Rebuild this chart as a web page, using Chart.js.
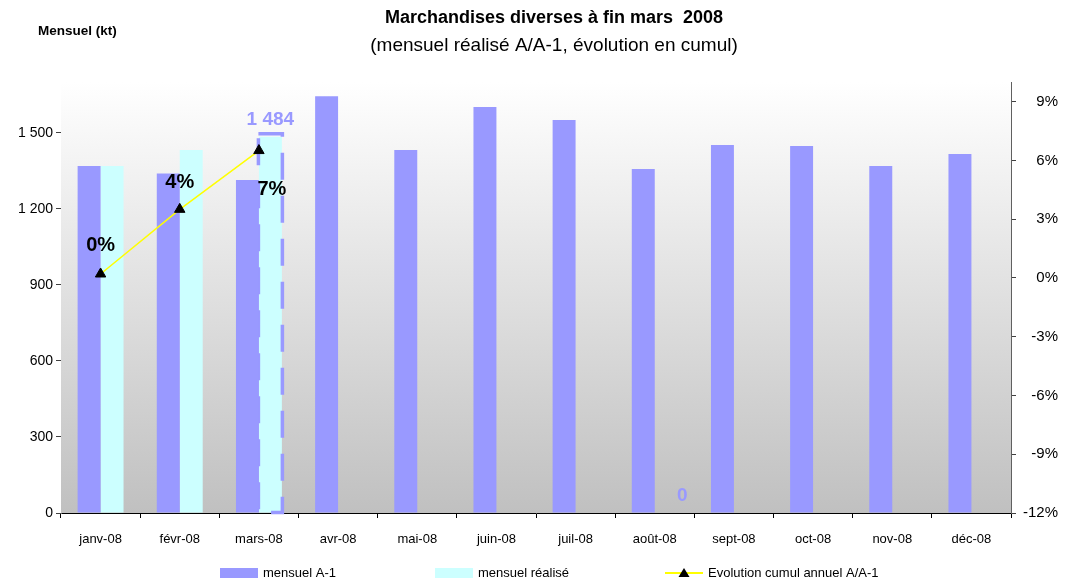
<!DOCTYPE html>
<html>
<head>
<meta charset="utf-8">
<script src="https://cdn.jsdelivr.net/npm/chart.js@4"></script>
<style>
  html, body { margin: 0; padding: 0; background: #ffffff; }
  #wrap { width: 1067px; height: 585px; }
</style>
</head>
<body>
<div id="wrap"><canvas id="c" width="1067" height="585"></canvas></div>
<script>
// ---------- data ----------
const categories = ['janv-08', 'févr-08', 'mars-08', 'avr-08', 'mai-08', 'juin-08', 'juil-08', 'août-08', 'sept-08', 'oct-08', 'nov-08', 'déc-08'];
const mensuelA1 = [1369, 1339, 1313, 1644, 1432, 1601, 1550, 1357, 1452, 1448, 1369, 1416];
const mensuelRealise = [1369, 1432, 1484, null, null, null, null, 0, null, null, null, null];
const realiseLabels = ['', '', '1 484', '', '', '', '', '0', '', '', '', ''];
const evolutionCumul = [0.2, 3.5, 6.5, null, null, null, null, null, null, null, null, null];
const leftTicks = [0, 300, 600, 900, 1200, 1500];
const rightTicks = [-12, -9, -6, -3, 0, 3, 6, 9];
const seriesNames = ['mensuel A-1', 'mensuel réalisé', 'Evolution cumul annuel A/A-1'];
const titleText = 'Marchandises diverses à fin mars  2008';
const subtitleText = '(mensuel réalisé A/A-1, évolution en cumul)';
const leftAxisTitle = 'Mensuel (kt)';

// ---------- styles ----------
const PURPLE = '#9999FF';
const CYAN = '#CCFFFF';
const YELLOW = '#FFFF00';
const FONT = "'Liberation Sans', Arial, sans-serif";

function fmtThousands(v) {
  return String(v).replace(/\B(?=(\d{3})+(?!\d))/g, ' ');
}

// plot background gradient
const bgPlugin = {
  id: 'plotBg',
  beforeDatasetsDraw(chart) {
    const {ctx, chartArea: a} = chart;
    const g = ctx.createLinearGradient(0, a.top, 0, a.bottom);
    g.addColorStop(0, '#ffffff');
    g.addColorStop(1, '#c0c0c0');
    ctx.save();
    ctx.fillStyle = g;
    ctx.fillRect(a.left, a.top, a.right - a.left, a.bottom - a.top);
    ctx.restore();
  }
};

// dashed border on the provisional bar (mars réalisé)
const dashedPlugin = {
  id: 'dashedBar',
  afterDatasetDraw(chart, args) {
    if (args.index !== 1) return;
    const meta = chart.getDatasetMeta(1);
    const el = meta.data[2];
    if (!el) return;
    const {ctx} = chart;
    const p = el.getProps(['x', 'y', 'width', 'base'], true);
    ctx.save();
    ctx.strokeStyle = PURPLE;
    ctx.lineWidth = 3.5;
    ctx.setLineDash([27, 16]);
    ctx.strokeRect(p.x - p.width / 2 - 0.5, p.y - 3, p.width + 1, p.base - p.y + 3);
    ctx.restore();
  }
};

// value labels
const labelPlugin = {
  id: 'valueLabels',
  afterDatasetsDraw(chart) {
    const {ctx} = chart;
    ctx.save();
    ctx.textAlign = 'center';
    ctx.textBaseline = 'middle';
    // bar labels
    const mb = chart.getDatasetMeta(1);
    ctx.font = 'bold 19px ' + FONT;
    ctx.fillStyle = PURPLE;
    realiseLabels.forEach((t, i) => {
      if (!t) return;
      const el = mb.data[i];
      const dx = mensuelRealise[i] === 0 ? 16 : 0;
      ctx.fillText(t, el.x + dx, el.y - 17);
    });
    // line labels
    const ml = chart.getDatasetMeta(2);
    const offs = [[0, -29], [0, -27], [13, 39]];
    ctx.font = 'bold 20px ' + FONT;
    ctx.fillStyle = '#000000';
    evolutionCumul.forEach((v, i) => {
      if (v === null) return;
      const el = ml.data[i];
      const o = offs[i] || [0, -28];
      ctx.fillText(Math.round(v) + '%', el.x + o[0], el.y + o[1]);
    });
    ctx.restore();
  }
};

// titles
const titlePlugin = {
  id: 'titles',
  afterDraw(chart) {
    const {ctx} = chart;
    ctx.save();
    ctx.fillStyle = '#000000';
    ctx.textBaseline = 'middle';
    ctx.textAlign = 'center';
    ctx.font = 'bold 18px ' + FONT;
    ctx.fillText(titleText, 554, 18);
    ctx.font = '19px ' + FONT;
    ctx.fillText(subtitleText, 554, 46);
    ctx.textAlign = 'left';
    ctx.font = 'bold 13.5px ' + FONT;
    ctx.fillText(leftAxisTitle, 38, 31);
    ctx.restore();
  }
};

// legend
const legendPlugin = {
  id: 'customLegend',
  afterDraw(chart) {
    const {ctx} = chart;
    const xs = [220, 435, 665];
    const y = 573;
    ctx.save();
    ctx.font = '13px ' + FONT;
    ctx.textBaseline = 'middle';
    ctx.textAlign = 'left';
    chart.data.datasets.forEach((ds, i) => {
      const x = xs[i];
      if (ds.type === 'line') {
        ctx.strokeStyle = ds.borderColor;
        ctx.lineWidth = 2;
        ctx.beginPath();
        ctx.moveTo(x, y);
        ctx.lineTo(x + 38, y);
        ctx.stroke();
        ctx.fillStyle = '#000';
        ctx.beginPath();
        ctx.moveTo(x + 19, y - 5);
        ctx.lineTo(x + 24.5, y + 4);
        ctx.lineTo(x + 13.5, y + 4);
        ctx.closePath();
        ctx.fill();
      } else {
        ctx.fillStyle = ds.backgroundColor;
        ctx.fillRect(x, y - 5, 38, 10);
      }
      ctx.fillStyle = '#000000';
      ctx.fillText(ds.label, x + 43, y);
    });
    ctx.restore();
  }
};

new Chart(document.getElementById('c'), {
  data: {
    labels: categories,
    datasets: [
      {
        type: 'bar', label: seriesNames[0], data: mensuelA1,
        backgroundColor: PURPLE, yAxisID: 'y', order: 1,
        categoryPercentage: 0.58, barPercentage: 1.0
      },
      {
        type: 'bar', label: seriesNames[1], data: mensuelRealise,
        backgroundColor: CYAN, yAxisID: 'y', order: 1,
        categoryPercentage: 0.58, barPercentage: 1.0
      },
      {
        type: 'line', label: seriesNames[2], data: evolutionCumul,
        borderColor: YELLOW, borderWidth: 1.5, yAxisID: 'y1', order: 0,
        tension: 0, spanGaps: false,
        pointStyle: 'triangle', pointRadius: 6,
        pointBackgroundColor: '#000', pointBorderColor: '#000', pointBorderWidth: 1
      }
    ]
  },
  options: {
    responsive: false,
    animation: false,
    devicePixelRatio: 1,
    layout: { padding: { top: 82, bottom: 32, left: 0, right: 9 } },
    plugins: {
      legend: { display: false },
      title: { display: false },
      tooltip: { enabled: false }
    },
    scales: {
      x: {
        offset: true,
        grid: { offset: true, drawOnChartArea: false, drawTicks: true, tickLength: 5, color: '#000000' },
        border: { display: true, color: '#000000', width: 1 },
        ticks: { font: { family: FONT, size: 13 }, color: '#000000', padding: 14, maxRotation: 0 },
        afterFit(s) { s.height = 40; }
      },
      y: {
        position: 'left', min: 0, max: 1700,
        grid: { drawOnChartArea: false, drawTicks: true, tickLength: 5, color: '#404040' },
        border: { display: true, color: '#606060', width: 1 },
        afterBuildTicks(s) { s.ticks = leftTicks.map(v => ({ value: v })); },
        ticks: { font: { family: FONT, size: 14 }, color: '#000000', padding: 3, callback: v => fmtThousands(v) },
        afterFit(s) { s.width = 61; }
      },
      y1: {
        position: 'right', min: -12, max: 10,
        grid: { drawOnChartArea: false, drawTicks: true, tickLength: 5, color: '#404040' },
        border: { display: true, color: '#606060', width: 1 },
        afterBuildTicks(s) { s.ticks = rightTicks.map(v => ({ value: v })); },
        ticks: { font: { family: FONT, size: 15 }, color: '#000000', padding: 7, crossAlign: 'far', callback: v => v + '%' },
        afterFit(s) { s.width = 47; }
      }
    }
  },
  plugins: [bgPlugin, dashedPlugin, labelPlugin, titlePlugin, legendPlugin]
});
</script>
</body>
</html>
